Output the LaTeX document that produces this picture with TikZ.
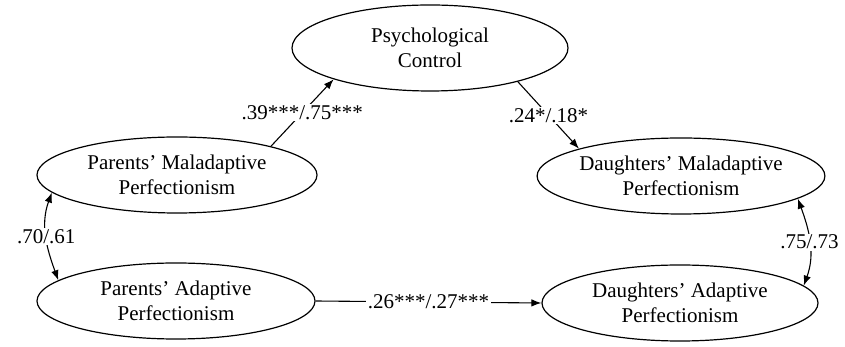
\documentclass[tikz,border=0pt]{standalone}
\usepackage{fontspec}
\setmainfont{Liberation Serif}
\usetikzlibrary{shapes.geometric,arrows.meta}
\tikzset{
  latent/.style={ellipse, draw, line width=1.2pt, inner sep=0pt, align=center,
    font=\fontsize{21}{25}\selectfont},
  path/.style={line width=1.1pt, -{Latex[length=10pt,width=7.5pt]}},
  cov/.style={line width=1.1pt, {Latex[length=10pt,width=7.5pt]}-{Latex[length=10pt,width=7.5pt]}},
  coef/.style={fill=white, inner sep=1.5pt, font=\fontsize{21}{25}\selectfont}
}
\begin{document}
\begin{tikzpicture}[x=1pt,y=1pt]
\useasboundingbox (0,0) rectangle (845,347);
\node[latent, minimum width=276, minimum height=86] (pc) at (430,299) {Psychological\\Control};
\node[latent, minimum width=280, minimum height=76] (pm) at (177,172) {Parents' Maladaptive\\Perfectionism};
\node[latent, minimum width=278, minimum height=76] (pa) at (176,46) {Parents' Adaptive\\Perfectionism};
\node[latent, minimum width=278, minimum height=76] (dm) at (681,171) {Daughters' Maladaptive\\Perfectionism};
\node[latent, minimum width=276, minimum height=76] (da) at (680,44) {Daughters' Adaptive\\Perfectionism};
\draw[path] (pm.17) -- node[coef] {.39***/.75***} (pc.198);
\draw[path] (pc.339) -- node[coef] {.24*/.18*} (dm.165);
\draw[path] (pa.east) -- node[coef] {.26***/.27***} (da.west);
\draw[cov] (pm.188) to[out=250, in=110] node[coef] {.70/.61} (pa.170);
\draw[cov] (dm.349) to[out=290, in=70] node[coef] {.75/.73} (da.8);
\end{tikzpicture}
\end{document}
